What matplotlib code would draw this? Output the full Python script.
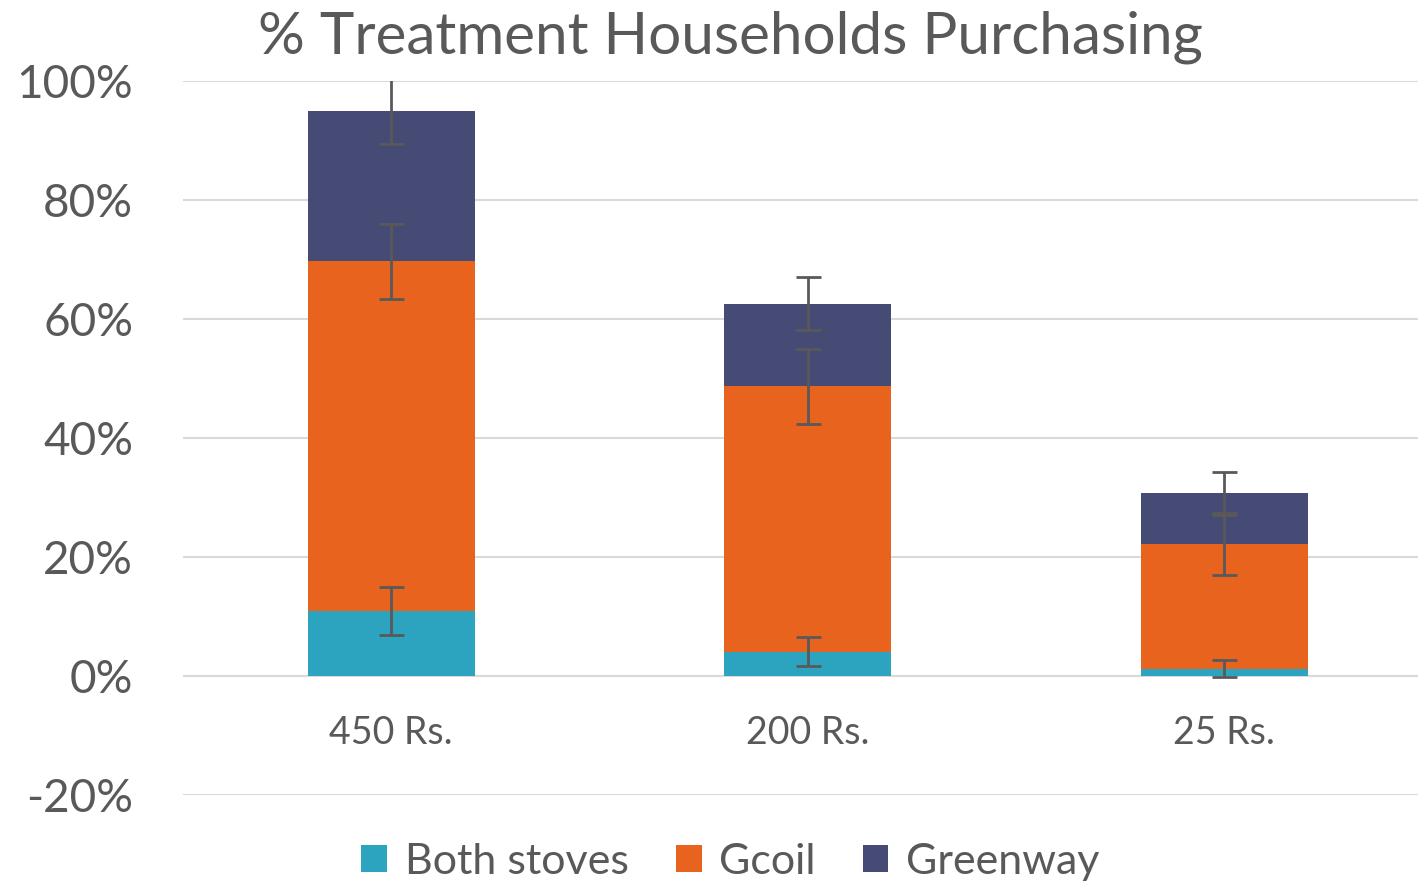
import numpy as np
import matplotlib.pyplot as plt

# data (percent)
categories = ['450 Rs.', '200 Rs.', '25 Rs.']
both = [10.9, 4.1, 1.2]
gcoil = [58.8, 44.6, 21.0]
greenway = [25.2, 13.9, 8.5]
both_err = [4.0, 2.5, 1.45]
gcoil_err = [6.3, 6.3, 5.2]
greenway_err = [5.5, 4.4, 3.6]

c_both = '#2CA3BF'
c_gcoil = '#E8641E'
c_green = '#464B76'
txt = '#595959'

plt.rcParams['font.family'] = ['Lato', 'DejaVu Sans']

fig = plt.figure(figsize=(14.18, 8.81), dpi=100)
ax = fig.add_axes([183 / 1418, 86 / 881, 1 - 183 / 1418, 714 / 881])

x = np.arange(len(categories))
both = np.array(both)
gcoil = np.array(gcoil)
greenway = np.array(greenway)
w = 0.4

ax.bar(x, both, w, color=c_both, label='Both stoves', zorder=2)
ax.bar(x, gcoil, w, bottom=both, color=c_gcoil, label='Gcoil', zorder=2)
ax.bar(x, greenway, w, bottom=both + gcoil, color=c_green, label='Greenway', zorder=2)

ekw = dict(fmt='none', ecolor=txt, elinewidth=2, capsize=9, capthick=2, zorder=3)
ax.errorbar(x, both, yerr=both_err, **ekw)
ax.errorbar(x, both + gcoil, yerr=gcoil_err, **ekw)
ax.errorbar(x, both + gcoil + greenway, yerr=greenway_err, **ekw)

ax.set_ylim(-20, 100)
ax.set_xlim(-0.5, 2.465)
ax.set_yticks(np.arange(-20, 101, 20))
ax.set_yticklabels([f'{v}%' for v in range(-20, 101, 20)])
ax.yaxis.grid(True, color='#D9D9D9', linewidth=1.5, zorder=0)
ax.set_axisbelow(True)
for s in ax.spines.values():
    s.set_visible(False)
ax.tick_params(axis='y', length=0, labelsize=33, labelcolor=txt, pad=36)
ax.set_xticks([])
for xi, lab in zip(x, categories):
    ax.text(xi, -9.6, lab, ha='center', va='center', fontsize=27, color=txt)

fig.text(0.515, 0.958, '% Treatment Households Purchasing', ha='center', va='center',
         fontsize=42, color=txt)

leg = fig.legend(loc='center', bbox_to_anchor=(0.515, 0.022), ncol=3, frameon=False,
                 fontsize=31, labelcolor=txt, handlelength=0.6, handleheight=0.6,
                 handletextpad=0.4, columnspacing=1.1)

fig.savefig('out.png', dpi=100)
